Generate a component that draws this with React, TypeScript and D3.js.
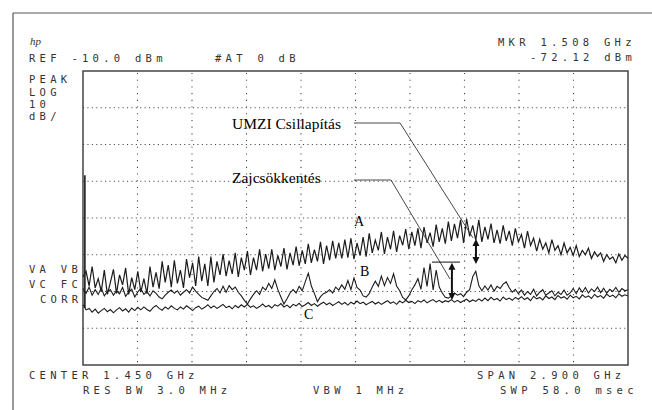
import React from 'react';
import * as d3 from 'd3';

// ---- data (spectrum analyser, 0 .. 2.9 GHz, REF -10 dBm, 10 dB/div) ----
const SPAN_GHZ = 2.9;
const REF_DBM = -10;
const BOTTOM_DBM = -90;
const X_DIVS = 10;
const Y_DIVS = 8;

// Trace A (dBm), evenly spaced across the span
const traceA = [
  -66, -64.5, -68.5, -63.2, -69, -66.5, -70, -64.2, -70.8, -67.5,
  -64, -70.5, -65.5, -68.2, -63.6, -70.8, -66.2, -69.5, -64.5, -70.2,
  -66.5, -70.6, -63.2, -68.8, -64.8, -69.2, -61.8, -67.5, -62.8, -68.8,
  -61.5, -67.8, -64.2, -69, -61.2, -66.2, -62.2, -68.5, -60.5, -67.2,
  -62.5, -68.5, -60.5, -67.5, -61.8, -65.5, -59.8, -65.8, -61.6, -65.2,
  -59.5, -66, -60.8, -64.2, -59, -65.5, -60.8, -64.2, -58.5, -64.5,
  -59.8, -63.8, -58.5, -64.2, -60.2, -63.2, -58.2, -64, -59.5, -62.8,
  -57.8, -63, -58.8, -62.5, -57, -62.2, -58.6, -61.8, -56.5, -62.5,
  -57.5, -61.5, -56.2, -61, -56.8, -61, -55.9, -60.8, -55.5, -61.2,
  -56.8, -60.2, -55.2, -60.5, -54.2, -59.5, -56, -58.8, -53.8, -59.8,
  -55.2, -58.5, -53.5, -59.2, -54.8, -57.4, -53, -58.5, -53.8, -57.5,
  -52.8, -58.2, -52.5, -56.8, -54, -57.8, -51.8, -56.5, -52.8, -57,
  -51, -56.2, -51.6, -55.5, -50.5, -56.8, -50.2, -55, -52, -56,
  -50.5, -56.5, -52.4, -55.8, -51.5, -56.8, -53.2, -57, -52, -56.2,
  -53.5, -57.5, -52.8, -56.5, -54.5, -58.2, -53.6, -57.5, -55.5, -59,
  -55.8, -58.5, -56.8, -59.5, -55.9, -58.8, -57.5, -60, -56.8, -59.5,
  -58, -60.2, -57.5, -60.5, -58.8, -60, -58.2, -61, -59.2, -60.5,
  -59.5, -61.8, -60, -61.2, -60.6, -62.2, -59.8, -61.5, -60.2, -61,
];

// Trace B (dBm)
const traceB = [
  -69.2, -70.5, -68.8, -71, -69.5, -70.8, -69, -71.2, -70, -69.5,
  -71, -69.8, -70.6, -68.9, -71.3, -70.2, -69.4, -71.5, -70.1, -69.2,
  -70.8, -70, -71.2, -69.8, -70.5, -71.5, -72, -71, -70.2, -69.6,
  -70.5, -69.8, -71, -70.2, -69.5, -70.4, -68.8, -69.9, -70.8, -71.6,
  -72, -72.4, -71.2, -70, -69.2, -70.4, -68.6, -70.2, -68.4, -69.5,
  -68.8, -70.2, -71.2, -72.4, -73.4, -72, -70.8, -69.8, -70.8, -68.8,
  -69.6, -67.8, -69.2, -66.8, -69.5, -71.5, -73.4, -72, -70.4, -69.5,
  -70.4, -68.6, -69.8, -67.4, -65, -68.5, -70.5, -72.8, -71.4, -70.6,
  -70.2, -69.5, -70.4, -68.8, -69.6, -68.2, -69.4, -67, -69.5, -66.3,
  -68.9, -69.6, -71.2, -71.5, -70.6, -68.8, -67.2, -68.6, -65.8, -68.4,
  -66.2, -67.8, -65.2, -68.5, -69.8, -71.6, -72.3, -71.2, -69.5, -68.2,
  -66.5, -69.4, -63.5, -68.6, -62.4, -69.6, -64.2, -68.8, -70.4, -71.6,
  -71.8, -71.2, -70.4, -71, -70.6, -71.4, -70.2, -69.5, -66, -64.5,
  -68.4, -69.8, -68.5, -69.6, -68.2, -69.9, -68.6, -69.2, -68, -67.4,
  -69, -70.2, -69.4, -70.6, -69.6, -71, -70, -70.8, -69.4, -71.2,
  -70.2, -69.5, -71, -70.4, -69.8, -71.2, -70.2, -70.8, -69.6, -71,
  -70.4, -69.2, -70.6, -69, -70.2, -68.9, -70.4, -69.3, -70, -68.8,
  -70.3, -69.1, -70.5, -69.4, -70, -68.9, -70.2, -69.2, -69.8, -69.5,
];

// Trace C (dBm)
const traceC = [
  -73.6, -75, -74.6, -75.6, -74.8, -75.9, -75.2, -74.6, -75.5, -74.9,
  -75.8, -75, -74.4, -75.3, -74.7, -75.6, -74.5, -75.2, -74.3, -75,
  -74.2, -74.9, -75.4, -74.4, -73.8, -74.6, -75.1, -74.2, -74.8, -73.9,
  -74.6, -75, -74.2, -74.8, -73.9, -74.5, -75.2, -74.4, -74, -74.8,
  -74.3, -73.6, -74.5, -73.9, -74.6, -74.1, -73.5, -74.4, -74, -74.7,
  -73.8, -74.4, -73.6, -74.2, -73.5, -74.3, -73.9, -74.6, -74.1, -73.4,
  -74.2, -73.8, -74.5, -73.6, -74, -73.3, -74.2, -73.7, -74.4, -73.5,
  -73.9, -73.2, -74.1, -73.6, -73, -73.8, -73.3, -74, -73.4, -72.9,
  -73.6, -73.1, -73.8, -73.3, -72.8, -73.5, -73, -73.7, -72.9, -73.4,
  -72.6, -73.3, -72.9, -73.6, -73.1, -72.7, -73.4, -72.9, -73.5, -73,
  -72.5, -73.2, -72.8, -73.5, -72.6, -73.1, -72.4, -73, -72.7, -73.3,
  -72.5, -72.9, -72.3, -73.1, -72.6, -72.2, -72.9, -72.4, -73, -72.5,
  -72.8, -72.2, -72.9, -72.4, -73, -72.5, -72.1, -72.8, -72.3, -72.7,
  -72, -72.6, -71.8, -72.5, -71.6, -72.3, -71.9, -72.6, -71.5, -72.2,
  -71.8, -72.4, -71.6, -72.1, -71.4, -72.2, -71.7, -72.5, -71.3, -72,
  -71.6, -72.3, -71.2, -71.9, -71.5, -72.2, -71.1, -71.8, -71.4, -72.1,
  -71, -71.7, -71.3, -72, -70.9, -71.6, -71.2, -71.9, -70.8, -71.5,
  -71.1, -71.8, -70.7, -71.4, -71, -71.7, -70.6, -71.3, -70.9, -71.2,
];

// LO feedthrough spike at 0 Hz
const loFeedthrough = { freq: 0.01, top: -38.4, bottom: -74.5 };

// Annotations (GHz / dBm)
const umziArrow = { freq: 2.091, top: -55.7, bottom: -62.5 };
const zajArrow = { freq: 1.963, top: -62.2, bottom: -72.3 };
const zajBar = { f0: 1.857, f1: 2.006, level: -62.0 };
const umziLeader: [number, number][] = [[1.442, -24.15], [1.687, -24.15], [2.075, -55.4]];
const zajLeader: [number, number][] = [[1.442, -39.66], [1.639, -39.66], [1.953, -66.6]];

const headerLeft = ['REF -10.0 dBm', '#AT 0 dB'];
const markerText = ['MKR 1.508 GHz', '-72.12 dBm'];
const scaleText = ['PEAK', 'LOG', '10', 'dB/'];
const modeText = ['VA VB', 'VC FC', 'CORR'];
const footer = ['CENTER 1.450 GHz', 'RES BW 3.0 MHz', 'VBW 1 MHz', 'SPAN 2.900 GHz', 'SWP 58.0 msec'];

const W = 652;
const H = 410;
const PL = 83, PR = 628, PT = 71, PB = 365;

const mono: React.CSSProperties = {
  fontFamily: '"DejaVu Sans Mono", monospace',
  fontSize: 10.5,
  letterSpacing: 4.28,
  whiteSpace: 'pre',
};

export default function App() {
  const x = d3.scaleLinear().domain([0, SPAN_GHZ]).range([PL, PR]);
  const y = d3.scaleLinear().domain([REF_DBM, BOTTOM_DBM]).range([PT, PB]);

  const mkLine = (arr: number[]) =>
    d3
      .line<number>()
      .x((_, i) => x((SPAN_GHZ * i) / (arr.length - 1)))
      .y((d) => y(d))(arr) || '';

  const xGrid = d3.range(1, X_DIVS).map((i) => (SPAN_GHZ * i) / X_DIVS);
  const yGrid = d3.range(1, Y_DIVS).map((i) => REF_DBM - i * 10);
  const link = d3.line<[number, number]>().x((d) => x(d[0])).y((d) => y(d[1]));

  const arrowHead = (cx: number, tipY: number, dir: number) => {
    const w = 3.5, h = 7;
    return `M${cx},${tipY} L${cx - w},${tipY + dir * h} L${cx + w},${tipY + dir * h} Z`;
  };

  const ink = '#1c1c1c';
  const textInk = '#333';

  return (
    <svg width={W} height={H} style={{ position: 'absolute', left: 0, top: 0, background: '#fff' }}>
      <rect x={0} y={0} width={W} height={H} fill="#fff" />
      {/* outer frame */}
      <line x1={13} y1={13} x2={W} y2={13} stroke="#555" strokeWidth={1.2} />
      <line x1={13} y1={13} x2={13} y2={H} stroke="#555" strokeWidth={1.2} />

      {/* grid */}
      {xGrid.map((f) => (
        <line key={'vx' + f} x1={x(f)} x2={x(f)} y1={PT + 2} y2={PB} stroke="#444" strokeWidth={1.1} strokeDasharray="1.1 5.6" />
      ))}
      {yGrid.map((v) => (
        <line key={'hy' + v} x1={PL} x2={PR} y1={y(v)} y2={y(v)} stroke="#444" strokeWidth={1.1} strokeDasharray="1.1 3.3" />
      ))}
      <rect x={PL} y={PT} width={PR - PL} height={PB - PT} fill="none" stroke="#444" strokeWidth={1.5} />

      {/* traces */}
      <path d={mkLine(traceC)} fill="none" stroke={ink} strokeWidth={1.1} />
      <path d={mkLine(traceB)} fill="none" stroke={ink} strokeWidth={1.1} />
      <path d={mkLine(traceA)} fill="none" stroke={ink} strokeWidth={1.2} />
      <line x1={x(loFeedthrough.freq)} x2={x(loFeedthrough.freq)} y1={y(loFeedthrough.top)} y2={y(loFeedthrough.bottom)} stroke={ink} strokeWidth={1.6} />

      {/* annotations */}
      <path d={link(umziLeader) || ''} fill="none" stroke="#333" strokeWidth={0.9} />
      <path d={link(zajLeader) || ''} fill="none" stroke="#333" strokeWidth={0.9} />
      <line x1={x(zajBar.f0)} x2={x(zajBar.f1)} y1={y(zajBar.level)} y2={y(zajBar.level)} stroke="#111" strokeWidth={1} />
      {[umziArrow, zajArrow].map((a, k) => (
        <g key={'arr' + k}>
          <line x1={x(a.freq)} x2={x(a.freq)} y1={y(a.top) + 5} y2={y(a.bottom) - 5} stroke="#111" strokeWidth={2} />
          <path d={arrowHead(x(a.freq), y(a.top), 1)} fill="#111" />
          <path d={arrowHead(x(a.freq), y(a.bottom), -1)} fill="#111" />
        </g>
      ))}
      <g fontFamily='"Liberation Serif", "Times New Roman", serif' fill="#000">
        <text x={232} y={128.5} fontSize={15.5}>UMZI Csillapítás</text>
        <text x={232} y={182.5} fontSize={15.5}>Zajcsökkentés</text>
        <text x={354} y={226} fontSize={14}>A</text>
        <text x={360} y={276} fontSize={14}>B</text>
        <text x={304} y={319} fontSize={14}>C</text>
      </g>

      {/* instrument texts */}
      <text x={30} y={45} fontFamily='"Liberation Serif", serif' fontStyle="italic" fontSize={11} fill={textInk}>hp</text>
      <g fill={textInk} style={mono}>
        <text x={29} y={61.7}>{headerLeft[0]}</text>
        <text x={215} y={61.7}>{headerLeft[1]}</text>
        <text x={498} y={45.7}>{markerText[0]}</text>
        <text x={530} y={60.7}>{markerText[1]}</text>
        {scaleText.map((t, i) => (
          <text key={t} x={29} y={83.3 + i * 12.3}>{t}</text>
        ))}
        <text x={29} y={273.3}>{modeText[0]}</text>
        <text x={29} y={288.3}>{modeText[1]}</text>
        <text x={40} y={303.3}>{modeText[2]}</text>
        <text x={29} y={379.3}>{footer[0]}</text>
        <text x={83} y={394}>{footer[1]}</text>
        <text x={313} y={394}>{footer[2]}</text>
        <text x={477} y={379.3}>{footer[3]}</text>
        <text x={500} y={394}>{footer[4]}</text>
      </g>
    </svg>
  );
}
